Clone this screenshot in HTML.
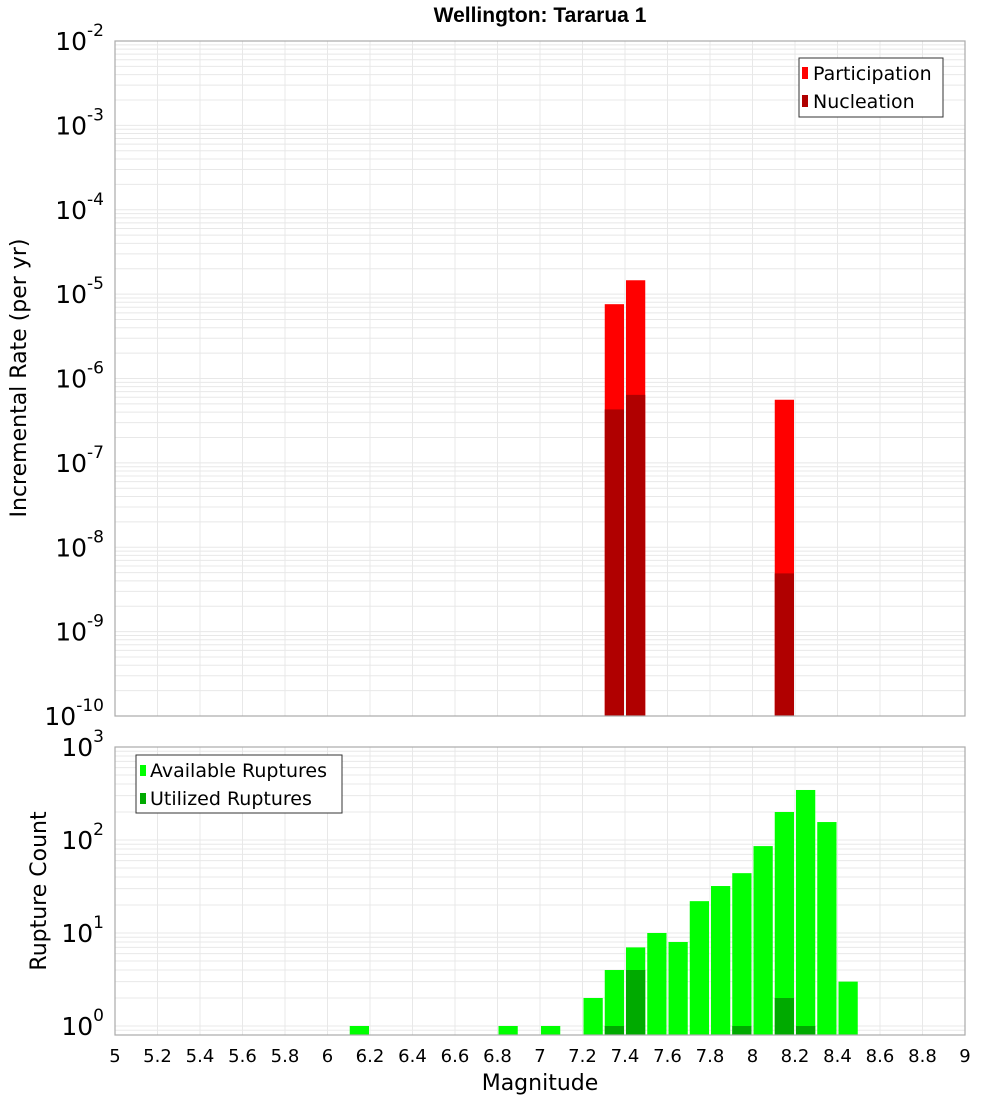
<!DOCTYPE html>
<html><head><meta charset="utf-8"><style>
body{margin:0;background:#fff;}
svg text{font-family:"DejaVu Sans","Liberation Sans",sans-serif;}
</style></head><body>
<svg id="c" width="1000" height="1100" xmlns="http://www.w3.org/2000/svg">
<text x="540" y="22" text-anchor="middle" font-size="21" font-weight="bold" style="font-family:'Liberation Sans',sans-serif">Wellington: Tararua 1</text>
<g id="top"></g><g id="bot"></g>
<text transform="translate(26,378) rotate(-90)" text-anchor="middle" font-size="22">Incremental Rate (per yr)</text>
<text transform="translate(46,891) rotate(-90)" text-anchor="middle" font-size="22">Rupture Count</text>
<text x="540" y="1090" text-anchor="middle" font-size="22">Magnitude</text>
<g>
<rect x="799" y="58" width="144" height="59" fill="#fff" stroke="#333" stroke-width="1"/>
<rect x="802" y="67" width="6" height="12" fill="#ff0000"/>
<text x="813" y="80" font-size="19">Participation</text>
<rect x="802" y="95" width="6" height="12" fill="#b00000"/>
<text x="813" y="108" font-size="19">Nucleation</text>
</g>
<g>
<rect x="136" y="755" width="206" height="58" fill="#fff" stroke="#333" stroke-width="1"/>
<rect x="140" y="765" width="6" height="11" fill="#00ff00"/>
<text x="150" y="777" font-size="19">Available Ruptures</text>
<rect x="140" y="793" width="6" height="11" fill="#00aa00"/>
<text x="150" y="805" font-size="19">Utilized Ruptures</text>
</g>
</svg>
<script>
const xTicks=[5,5.2,5.4,5.6,5.8,6,6.2,6.4,6.6,6.8,7,7.2,7.4,7.6,7.8,8,8.2,8.4,8.6,8.8,9];
const rateMags=[7.35,7.45,8.15];
const participation=[7.6e-6,1.46e-5,5.6e-7];
const nucleation=[4.3e-7,6.4e-7,4.9e-9];
const countMags=[6.15,6.85,7.05,7.25,7.35,7.45,7.55,7.65,7.75,7.85,7.95,8.05,8.15,8.25,8.35,8.45];
const available=[1,1,1,2,4,7,10,8,22,32,44,86,200,345,156,3];
const utilizedMags=[7.35,7.45,7.95,8.15,8.25];
const utilized=[1,4,1,2,1];
const topExp=[-10,-9,-8,-7,-6,-5,-4,-3,-2];
const botExp=[0,1,2,3];
const NS="http://www.w3.org/2000/svg";
const X0=115,X1=965;
const xs=m=>X0+(m-5)/4*(X1-X0);
function mk(p,t,a){const e=document.createElementNS(NS,t);for(const k in a)e.setAttribute(k,a[k]);p.appendChild(e);return e;}
function panel(g,top,bot,lmin,lmax,exps,name){
 const ys=v=>bot-(Math.log10(v)-lmin)/(lmax-lmin)*(bot-top);
 const bg=mk(g,'rect',{x:X0,y:top,width:X1-X0,height:bot-top,fill:'#fff'});
 
 
 for(let d=Math.floor(lmin);d<Math.ceil(lmax);d++)for(let k=1;k<10;k++){const v=k*Math.pow(10,d);const y=ys(v);if(y<top-0.1||y>bot+0.1)continue;
  const l=mk(g,'line',{x1:X0,x2:X1,y1:y,y2:y,stroke:'#e8e8e8','stroke-width':1});
  
  }
 xTicks.forEach(t=>{const l=mk(g,'line',{x1:xs(t),x2:xs(t),y1:top,y2:bot,stroke:'#e8e8e8','stroke-width':1});
  
  });
 exps.forEach(e=>{const y=ys(Math.pow(10,e));const t=mk(g,'text',{x:104,y:y+9,'text-anchor':'end','font-size':25});
  
  
  t.textContent='10';const s=mk(t,'tspan',{dy:-14,'font-size':17});s.textContent=String(e);});
 return ys;
}
function frame(g,top,bot,name){const r=mk(g,'rect',{x:X0,y:top,width:X1-X0,height:bot-top,fill:'none',stroke:'#aaa','stroke-width':1.2});
 
 }
function bar(g,m,v,ys,bot,col,name){const x=xs(m-0.05)+1,w=xs(m+0.05)-xs(m-0.05)-2;const y=ys(v);
 const r=mk(g,'rect',{x:x,y:y,width:w,height:bot-y,fill:col});
 
 }
const gt=document.getElementById('top');
const T0=41,T1=716;
const yt=panel(gt,T0,T1,-10,-2,topExp,'top');
rateMags.forEach((m,i)=>bar(gt,m,participation[i],yt,T1,'#ff0000','participation-bar'));
rateMags.forEach((m,i)=>bar(gt,m,nucleation[i],yt,T1,'#b00000','nucleation-bar'));
frame(gt,T0,T1,'top');
const gb=document.getElementById('bot');
const B0=747,B1=1035;
const lminB=3-(B1-B0)/93;
const yb=panel(gb,B0,B1,lminB,3,botExp,'bottom');
countMags.forEach((m,i)=>bar(gb,m,available[i],yb,B1,'#00ff00','available-bar'));
utilizedMags.forEach((m,i)=>bar(gb,m,utilized[i],yb,B1,'#00aa00','utilized-bar'));
frame(gb,B0,B1,'bottom');
xTicks.forEach(t=>{const e=mk(gb,'text',{x:xs(t),y:1062,'text-anchor':'middle','font-size':18});
 
 
 e.textContent=String(t);});
</script>
</body></html>
